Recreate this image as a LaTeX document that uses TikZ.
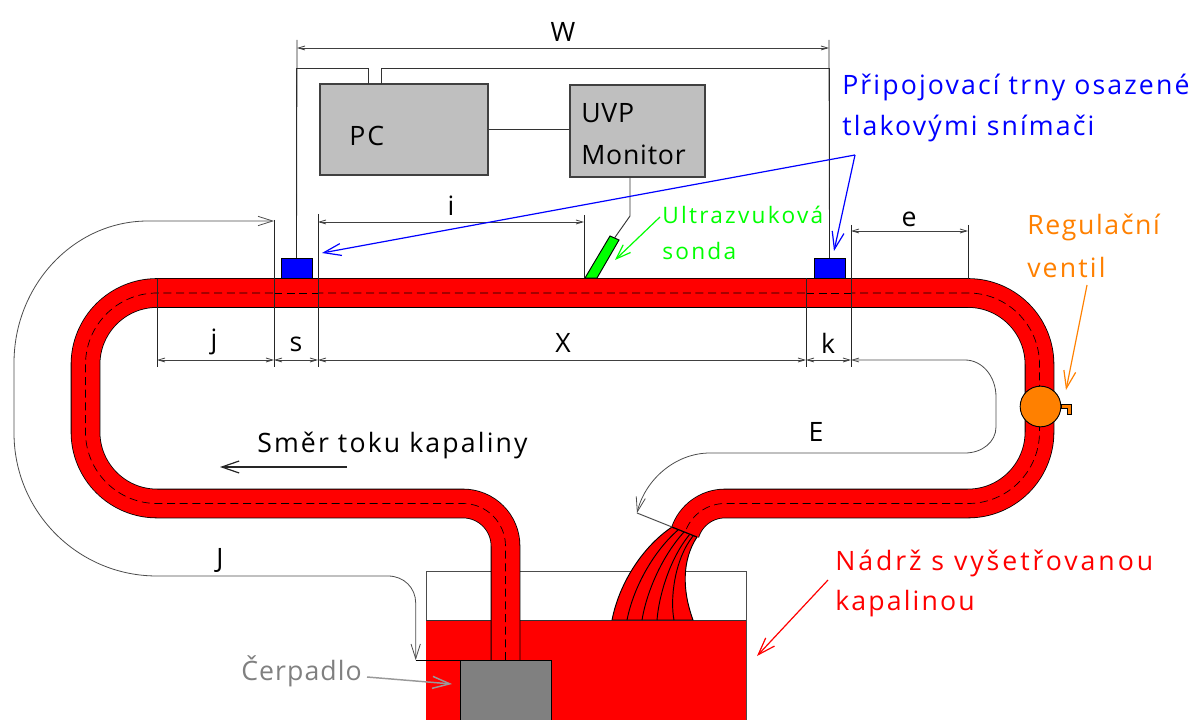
\documentclass[tikz,border=0pt]{standalone}
\usepackage{fontspec}
\setmainfont[LetterSpace=8]{Open Sans}
\usetikzlibrary{arrows.meta}
\definecolor{orangeV}{HTML}{FF8000}
\newcommand{\pipePath}{(505.5,660) -- (505.5,546) arc (0:-90:42.5) -- (157,503.5) arc (90:180:71.5) -- (85.5,364.5) arc (180:270:71.5) -- (968,293) arc (-90:0:71.5) -- (1039.5,432) arc (0:90:71.5) -- (725,503.5) arc (-90:-162:42)}
\newcommand{\sizeL}{\fontsize{20pt}{22pt}\selectfont}
\newcommand{\sizeM}{\fontsize{17pt}{18pt}\selectfont\addfontfeature{LetterSpace=10}}
\newcommand{\spaceT}[1]{\addfontfeature{LetterSpace=#1}}
\begin{document}
\begin{tikzpicture}[x=0.75pt,y=-0.75pt,
pipeS/.style={draw=black,double=red,double distance=21pt,line width=0.6pt},
axisS/.style={black,line width=0.5pt,dash pattern=on 6pt off 3.5pt},
boxS/.style={draw=black!75,fill=black!25,line width=0.8pt,inner sep=0pt},
sensS/.style={draw=black,fill=blue,line width=0.6pt,inner sep=0pt,minimum width=23.25pt,minimum height=15pt},
wireS/.style={black!80,line width=0.7pt},
extS/.style={black!85,line width=0.6pt},
dimS/.style={black!75,line width=0.6pt,{Straight Barb[length=5pt,width=3pt]}-{Straight Barb[length=5pt,width=3pt]}},
curveS/.style={black!70,line width=0.6pt},
flowS/.style={line width=0.9pt,-{Straight Barb[length=13pt,width=9pt]}},
textS/.style={anchor=west,inner sep=0pt,font=\sizeL},
textM/.style={anchor=west,inner sep=0pt,font=\sizeM},
dimT/.style={inner sep=0pt,font=\sizeL}]
\path[use as bounding box] (0,0) rectangle (1203,720);
\clip (0,0) rectangle (1203,720);
% tank
\draw[black!70,line width=0.7pt] (426,725) -- (426,571) -- (746,571) -- (746,725);
\fill[red] (426,620) rectangle (746,725);
\draw[black!80,line width=0.7pt] (426,620) -- (746,620);
% stream
\draw[fill=red,line width=0.7pt] (612,620) .. controls (620,580) and (645,545) .. (672,527) -- (697,537) .. controls (682,560) and (682,590) .. (693,620) -- cycle;
\draw[line width=0.7pt] (627,620) .. controls (634,585) and (655,550) .. (678,530);
\draw[line width=0.7pt] (642,620) .. controls (647,590) and (663,555) .. (684,532);
\draw[line width=0.7pt] (657,620) .. controls (659,595) and (670,558) .. (690,534);
\draw[line width=0.7pt] (674,620) .. controls (670,600) and (674,560) .. (693,536);
% pipe
\draw[pipeS] \pipePath;
\draw[axisS] \pipePath;
% pipe end
\draw[line width=0.8pt] (672,527) -- (697,537);
% pump
\node[draw=black,fill=black!50,line width=0.8pt,inner sep=0pt,minimum width=68.25pt,minimum height=50pt,anchor=north west] (pump) at (460,660) {};
% sensors and boxes
\node[boxS,minimum width=126pt,minimum height=68.25pt] (pc) at (404,129.5) {};
\node[boxS,minimum width=101.25pt,minimum height=69pt] (uvp) at (637.5,131) {};
\node[sensS] (sensL) at (296.5,268) {};
\node[sensS] (sensR) at (829.5,268) {};
\coordinate (pcA) at (368,84);
\coordinate (pcB) at (381,84);
\coordinate (wireA) at (368,68);
\coordinate (wireB) at (381,68);
\draw[wireS] (sensL.north) |- (wireA) -- (pcA);
\draw[wireS] (sensR.north) |- (wireB) -- (pcB);
\draw[wireS] (pc.east) -- (pc.east -| uvp.west);
% valve
\node[draw=black,fill=orangeV,circle,line width=0.7pt,inner sep=0pt,minimum size=30.5pt] (valve) at (1040.5,406.5) {};
\draw[black,line width=0.5pt,fill=orangeV] (1061,404) -- (1071,404) -- (1071,414) -- (1067,414) -- (1067,408) -- (1061,408) -- cycle;
% probe
\coordinate (probeT) at (614.5,238);
\coordinate (probeK) at (630,216);
\draw[draw=black,fill=green,line width=0.7pt] (610,236) -- (619,240) -- (597,278) -- (585,278) -- cycle;
\draw[wireS] (uvp.south -| probeK) -- (probeK) -- (probeT);
% sections and extension lines
\draw[pipeS,double distance=21.5pt,line width=0.5pt] (274,293) -- (318,293);
\draw[pipeS,double distance=21.5pt,line width=0.5pt] (806,293) -- (851,293);
\draw[axisS] (274,293) -- (318,293);
\draw[axisS] (806,293) -- (851,293);
\draw[extS] (157,279) -- (157,367);
\draw[extS] (274,220) -- (274,367);
\draw[extS] (318,214) -- (318,367);
\draw[extS] (806,278) -- (806,367);
\draw[extS] (851,225) -- (851,367);
\draw[extS] (584,215) -- (584,278);
\draw[extS] (968,225) -- (968,279);
\draw[extS] (sensL.north) -- (297,40);
\draw[extS] (sensR.north) -- (829,40);
% dimensions
\draw[dimS] (297,48) -- (829,48);
\draw[dimS] (318,222) -- (584,222);
\draw[dimS] (851,231) -- (968,231);
\draw[dimS] (157,360) -- (274,360);
\draw[dimS] (274,360) -- (318,360);
\draw[dimS] (318,360) -- (806,360);
\draw[dimS] (806,360) -- (851,360);
% J and E
\draw[curveS,{Straight Barb[length=11pt,width=7pt]}-{Straight Barb[length=11pt,width=7pt]}] (415.7,660) -- (415.7,603) .. controls (415.7,588) and (404,576) .. (388,576) -- (157,576) .. controls (78,576) and (14,512) .. (14,433) -- (14,363) .. controls (14,285) and (74,221) .. (148,221) -- (274,221);
\draw[black,line width=0.7pt] (415.7,660) -- (460,660);
\draw[curveS,{Straight Barb[length=5pt,width=3pt]}-{Straight Barb[length=11pt,width=7pt]}] (851,360) -- (965,360) .. controls (982,360) and (996,376) .. (996,397) -- (996,427) .. controls (996,442) and (982,453) .. (965,453) -- (710,453) .. controls (675,453) and (645,480) .. (637,513);
\draw[black!70,line width=0.7pt] (637,513) -- (672,527);
% arrows
\coordinate (blueS) at (855,155);
\draw[flowS,blue] (blueS) -- (322,253);
\draw[flowS,blue] (blueS) -- (834,251);
\draw[flowS,green,-{Straight Barb[length=11pt,width=8pt]}] (660,217) -- (615,260);
\draw[flowS,orangeV] (1087,285) -- (1066,390);
\draw[flowS,red] (828,580) -- (757,656);
\draw[flowS,black!40,line width=1.1pt] (367,677) -- (452,684);
\draw[flowS,black!85] (347,467) -- (220,467);
% texts
\node[dimT] (tW) at (563,32) {W};
\node[textS] (tPC) at (349,136) {PC};
\node[textS] (tUVP) at (581,113) {\spaceT{3}UVP};
\node[textS] (tMon) at (581,155) {\spaceT{3}Monitor};
\node[dimT] (ti) at (451,206) {i};
\node[dimT] (te) at (909,219) {e};
\node[dimT] (tj) at (214,342) {j};
\node[dimT] (ts) at (296,344) {s};
\node[dimT] (tX) at (563,343) {X};
\node[dimT] (tk) at (828,343) {k};
\node[dimT] (tE) at (816,432) {E};
\node[dimT] (tJ) at (220,560) {J};
\node[textS] (tFlow) at (257,445) {Směr toku kapaliny};
\node[textS,blue] (tConA) at (842,87) {Připojovací trny osazené};
\node[textS,blue] (tConB) at (842,128) {tlakovými snímači};
\node[textM,green] (tSonA) at (662,215) {Ultrazvuková};
\node[textM,green] (tSonB) at (662,251) {sonda};
\node[textS,orangeV] (tValA) at (1027,227) {\spaceT{6}Regulační};
\node[textS,orangeV] (tValB) at (1027,268) {ventil};
\node[textS,red] (tTankA) at (835,563) {\spaceT{11}Nádrž s vyšetřovanou};
\node[textS,red] (tTankB) at (835,604) {kapalinou};
\node[textS,black!50] (tPump) at (241,671) {\spaceT{4}Čerpadlo};
\end{tikzpicture}
\end{document}
